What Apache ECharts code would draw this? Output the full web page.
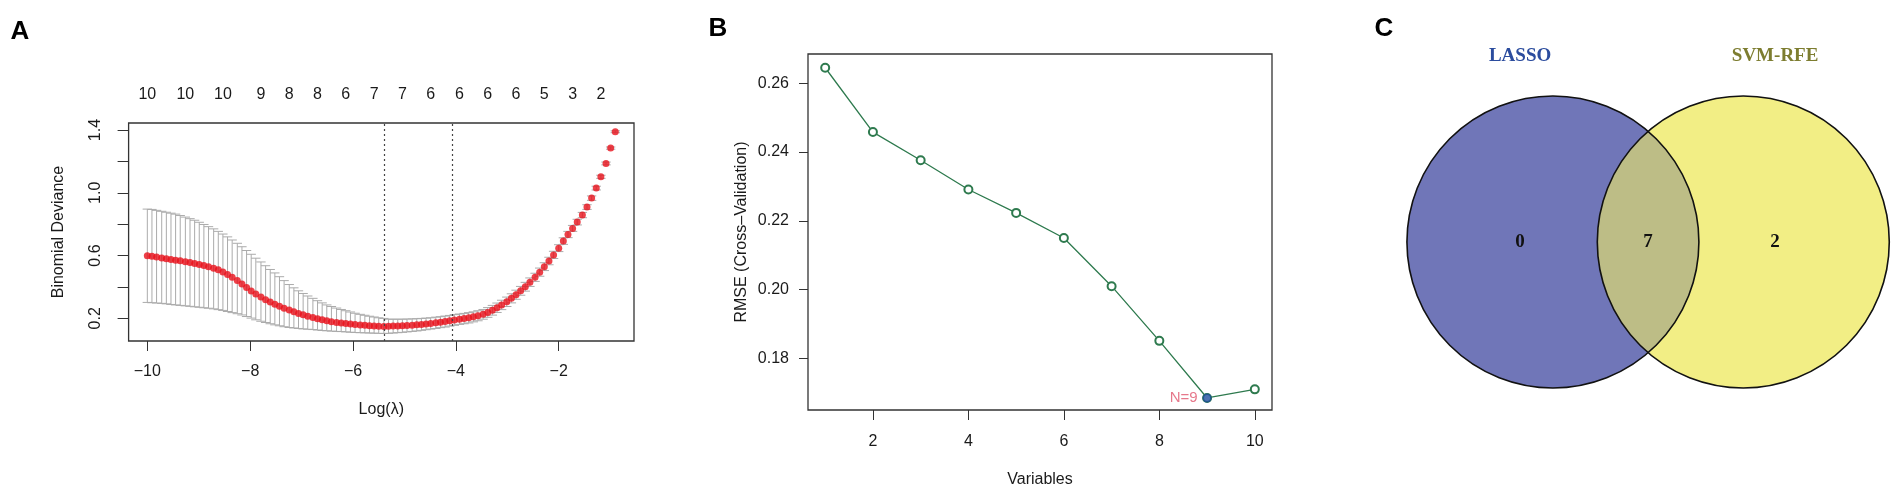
<!DOCTYPE html>
<html>
<head>
<meta charset="utf-8">
<script src="https://cdn.jsdelivr.net/npm/echarts@6/dist/echarts.min.js"></script>
<style>
  html, body { margin: 0; padding: 0; background: #fff; }
  #chart { width: 1902px; height: 498px; }
</style>
</head>
<body>
<div id="chart"></div>
<script>
// ---- A: LASSO cross-validation curve ----
const logLambda = [
  -10.00, -9.91, -9.82, -9.72, -9.63, -9.54, -9.45, -9.36, -9.26, -9.17,
  -9.08, -8.99, -8.90, -8.81, -8.71, -8.62, -8.53, -8.44, -8.35, -8.25,
  -8.16, -8.07, -7.98, -7.89, -7.79, -7.70, -7.61, -7.52, -7.43, -7.34,
  -7.24, -7.15, -7.06, -6.97, -6.88, -6.78, -6.69, -6.60, -6.51, -6.42,
  -6.32, -6.23, -6.14, -6.05, -5.96, -5.86, -5.77, -5.68, -5.59, -5.50,
  -5.40, -5.31, -5.22, -5.13, -5.04, -4.95, -4.85, -4.76, -4.67, -4.58,
  -4.49, -4.39, -4.30, -4.21, -4.12, -4.03, -3.93, -3.84, -3.75, -3.66,
  -3.57, -3.47, -3.38, -3.29, -3.20, -3.11, -3.01, -2.92, -2.83, -2.74,
  -2.65, -2.56, -2.46, -2.37, -2.28, -2.19, -2.10, -2.00, -1.91, -1.82,
  -1.73, -1.64, -1.54, -1.45, -1.36, -1.27, -1.18, -1.08, -0.99, -0.90
];
const cvMean = [
  0.599, 0.595, 0.590, 0.585, 0.580, 0.575, 0.570, 0.566, 0.561, 0.555,
  0.549, 0.543, 0.536, 0.528, 0.519, 0.509, 0.495, 0.479, 0.461, 0.440,
  0.418, 0.396, 0.374, 0.354, 0.335, 0.318, 0.303, 0.289, 0.276, 0.264,
  0.252, 0.241, 0.231, 0.222, 0.213, 0.205, 0.197, 0.190, 0.184, 0.178,
  0.173, 0.169, 0.166, 0.163, 0.160, 0.157, 0.155, 0.153, 0.151, 0.149,
  0.148, 0.149, 0.150, 0.151, 0.152, 0.154, 0.156, 0.158, 0.161, 0.164,
  0.167, 0.171, 0.175, 0.179, 0.184, 0.189, 0.194, 0.198, 0.203, 0.209,
  0.216, 0.225, 0.237, 0.251, 0.267, 0.285, 0.305, 0.327, 0.350, 0.375,
  0.401, 0.430, 0.461, 0.494, 0.529, 0.565, 0.604, 0.647, 0.692, 0.734,
  0.773, 0.813, 0.858, 0.909, 0.966, 1.030, 1.102, 1.187, 1.285, 1.389
];
const cvUpper = [
  0.896, 0.894, 0.888, 0.882, 0.876, 0.870, 0.864, 0.855, 0.845, 0.835,
  0.825, 0.812, 0.798, 0.784, 0.770, 0.754, 0.737, 0.719, 0.699, 0.678,
  0.656, 0.632, 0.608, 0.583, 0.559, 0.535, 0.511, 0.489, 0.465, 0.440,
  0.415, 0.394, 0.375, 0.358, 0.342, 0.327, 0.312, 0.298, 0.285, 0.275,
  0.265, 0.256, 0.248, 0.240, 0.232, 0.225, 0.219, 0.213, 0.208, 0.203,
  0.199, 0.194, 0.194, 0.194, 0.194, 0.195, 0.196, 0.197, 0.199, 0.201,
  0.203, 0.207, 0.210, 0.214, 0.218, 0.223, 0.227, 0.231, 0.236, 0.241,
  0.248, 0.256, 0.268, 0.282, 0.297, 0.315, 0.335, 0.356, 0.379, 0.403,
  0.429, 0.457, 0.487, 0.520, 0.554, 0.589, 0.627, 0.669, 0.713, 0.754,
  0.792, 0.831, 0.875, 0.924, 0.980, 1.042, 1.112, 1.196, 1.292, 1.395
];
const cvLower = [
  0.301, 0.299, 0.297, 0.295, 0.292, 0.288, 0.285, 0.282, 0.279, 0.276,
  0.273, 0.270, 0.267, 0.264, 0.260, 0.255, 0.250, 0.243, 0.236, 0.229,
  0.221, 0.211, 0.201, 0.190, 0.181, 0.173, 0.165, 0.158, 0.152, 0.146,
  0.141, 0.138, 0.135, 0.132, 0.130, 0.128, 0.125, 0.122, 0.120, 0.118,
  0.116, 0.115, 0.113, 0.111, 0.109, 0.108, 0.107, 0.106, 0.105, 0.104,
  0.103, 0.104, 0.106, 0.108, 0.110, 0.113, 0.116, 0.119, 0.123, 0.127,
  0.131, 0.135, 0.140, 0.144, 0.150, 0.155, 0.161, 0.165, 0.170, 0.177,
  0.184, 0.194, 0.206, 0.220, 0.237, 0.255, 0.275, 0.298, 0.321, 0.347,
  0.373, 0.403, 0.435, 0.468, 0.504, 0.541, 0.581, 0.625, 0.671, 0.714,
  0.754, 0.795, 0.841, 0.894, 0.952, 1.018, 1.092, 1.178, 1.278, 1.383
];
const lambdaMin = -5.39;
const lambda1se = -4.08;
// number of non-zero coefficients shown along the top
const topPos = [-10.00, -9.26, -8.53, -7.79, -7.24, -6.69, -6.14, -5.59,
                -5.04, -4.49, -3.93, -3.38, -2.83, -2.28, -1.73, -1.18];
const topNz = [10, 10, 10, 9, 8, 8, 6, 7, 7, 6, 6, 6, 6, 5, 3, 2];
const aTicksX = [-10, -8, -6, -4, -2];
const aTicksY = [0.2, 0.4, 0.6, 0.8, 1.0, 1.2, 1.4];
const aLabelsY = [0.2, 0.6, 1.0, 1.4];

// ---- B: SVM-RFE ----
const nVars = [1, 2, 3, 4, 5, 6, 7, 8, 9, 10];
const rmse = [0.2645, 0.2458, 0.2376, 0.2291, 0.2223, 0.2150, 0.2010, 0.1851, 0.1685, 0.1710];
const bTicksX = [2, 4, 6, 8, 10];
const bTicksY = [0.18, 0.20, 0.22, 0.24, 0.26];

// ---- C: Venn ----
const vennSets = ['LASSO', 'SVM-RFE'];
const vennCounts = [0, 7, 2]; // LASSO only, both, SVM-RFE only

const FONT = '"Liberation Sans", Arial, Helvetica, sans-serif';
const SERIF = '"Liberation Serif", "Times New Roman", serif';
const INK = '#1a1a1a';
const GREEN = '#2E7A4E';

const chart = echarts.init(document.getElementById('chart'));

const tick = (vals, len) => ({ show: true, inside: false, length: len, customValues: vals,
  lineStyle: { color: '#333', width: 1 } });
const txt = { color: INK, fontSize: 16, fontFamily: FONT };
const minus = (s) => String(s).replace('-', '\u2212');

const best = rmse.indexOf(Math.min(...rmse));

// venn layout, in units of circle radius
const vennCx = [-0.652, 0.652];
const vennLabelX = [-0.877, 0, 0.87];
const vennNameY = 1.274;
const vennFill = ['#7076B8', '#F2EE85'];
const vennNameColor = ['#2B4C9E', '#7D7D30'];

const option = {
  animation: false,
  graphic: [
    { type: 'text', x: 20, y: 32, style: { text: 'A', align: 'center', verticalAlign: 'middle', font: 'bold 26px ' + FONT, fill: '#000' } },
    { type: 'text', x: 718, y: 29, style: { text: 'B', align: 'center', verticalAlign: 'middle', font: 'bold 26px ' + FONT, fill: '#000' } },
    { type: 'text', x: 1384, y: 29, style: { text: 'C', align: 'center', verticalAlign: 'middle', font: 'bold 26px ' + FONT, fill: '#000' } }
  ],
  grid: [
    { left: 128.6, top: 123, width: 505.4, height: 218, show: true, borderColor: '#333', borderWidth: 1.3, outerBoundsMode: 'none' },
    { left: 808, top: 54, width: 464, height: 356, show: true, borderColor: '#333', borderWidth: 1.3, outerBoundsMode: 'none' },
    { left: 1397, top: 81.4, width: 502.2, height: 321.2, show: false, outerBoundsMode: 'none' }
  ],
  xAxis: [
    { gridIndex: 0, type: 'value', min: -10.364, max: -0.536,
      splitLine: { show: false }, axisLine: { show: false, onZero: false },
      axisTick: tick(aTicksX, 10),
      axisLabel: Object.assign({}, txt, { margin: 23, customValues: aTicksX, formatter: v => minus(v) }),
      name: 'Log(\u03bb)', nameLocation: 'middle', nameGap: 61, nameTextStyle: txt },
    { gridIndex: 0, type: 'value', position: 'top', min: -10.364, max: -0.536,
      splitLine: { show: false }, axisLine: { show: false, onZero: false }, axisTick: { show: false },
      axisLabel: Object.assign({}, txt, { margin: 20, customValues: topPos,
        formatter: v => { const k = topPos.findIndex(p => Math.abs(p - v) < 1e-6); return k >= 0 ? String(topNz[k]) : ''; } }) },
    { gridIndex: 1, type: 'value', min: 0.64, max: 10.36,
      splitLine: { show: false }, axisLine: { show: false, onZero: false },
      axisTick: tick(bTicksX, 10),
      axisLabel: Object.assign({}, txt, { margin: 24, customValues: bTicksX }),
      name: 'Variables', nameLocation: 'middle', nameGap: 62, nameTextStyle: txt },
    { gridIndex: 2, type: 'value', min: -1.72, max: 1.72, show: false }
  ],
  yAxis: [
    { gridIndex: 0, type: 'value', min: 0.055, max: 1.445,
      splitLine: { show: false }, axisLine: { show: false, onZero: false },
      axisTick: tick(aTicksY, 11),
      axisLabel: Object.assign({}, txt, { rotate: 90, margin: 25, customValues: aLabelsY, formatter: v => v.toFixed(1) }),
      name: 'Binomial Deviance', nameLocation: 'middle', nameGap: 62, nameTextStyle: txt },
    { gridIndex: 1, type: 'value', min: 0.165, max: 0.2685,
      splitLine: { show: false }, axisLine: { show: false, onZero: false },
      axisTick: tick(bTicksY, 9),
      axisLabel: Object.assign({}, txt, { margin: 19, customValues: bTicksY, formatter: v => v.toFixed(2) }),
      name: 'RMSE (Cross\u2013Validation)', nameLocation: 'middle', nameGap: 58, nameTextStyle: txt },
    { gridIndex: 2, type: 'value', min: -1.1, max: 1.1, show: false }
  ],
  series: [
    // A: grey error bars
    { type: 'custom', xAxisIndex: 0, yAxisIndex: 0, silent: true, z: 2,
      data: logLambda.map((x, i) => [x, cvLower[i], cvUpper[i]]),
      encode: { x: 0, y: [1, 2] },
      renderItem(params, api) {
        const x = api.value(0);
        const lo = api.coord([x, api.value(1)]);
        const hi = api.coord([x, api.value(2)]);
        const w = api.size([0.091, 0])[0];
        const st = { stroke: '#ABABAB', lineWidth: 1 };
        return { type: 'group', children: [
          { type: 'line', shape: { x1: lo[0], y1: lo[1], x2: hi[0], y2: hi[1] }, style: st },
          { type: 'line', shape: { x1: lo[0] - w, y1: lo[1], x2: lo[0] + w, y2: lo[1] }, style: st },
          { type: 'line', shape: { x1: hi[0] - w, y1: hi[1], x2: hi[0] + w, y2: hi[1] }, style: st }
        ] };
      } },
    // A: red mean points + lambda lines
    { type: 'scatter', xAxisIndex: 0, yAxisIndex: 0, silent: true, z: 3,
      symbolSize: 7, itemStyle: { color: '#E8121C' },
      data: logLambda.map((x, i) => [x, cvMean[i]]),
      markLine: { silent: true, symbol: 'none', label: { show: false },
        lineStyle: { color: '#444', type: [2, 3], width: 1.2 },
        data: [{ xAxis: lambdaMin }, { xAxis: lambda1se }] } },
    // B: RMSE line
    { type: 'line', xAxisIndex: 2, yAxisIndex: 1, silent: true,
      data: nVars.map((n, i) => [n, rmse[i]]),
      symbol: 'emptyCircle', symbolSize: 8,
      lineStyle: { color: GREEN, width: 1.3 },
      itemStyle: { color: GREEN, borderWidth: 1.2 } },
    // B: best point
    { type: 'scatter', xAxisIndex: 2, yAxisIndex: 1, silent: true, z: 4,
      data: [[nVars[best], rmse[best]]], symbolSize: 9,
      itemStyle: { color: '#1F4E9E' },
      label: { show: true, position: 'left', distance: 5, formatter: 'N=' + nVars[best],
        color: '#E0566E', fontSize: 15, fontFamily: FONT } },
    // C: Venn diagram
    { type: 'custom', xAxisIndex: 3, yAxisIndex: 2, silent: true,
      data: vennCounts.map((c, i) => [i, c]),
      renderItem(params, api) {
        const i = params.dataIndex;
        const r = api.size([1, 0])[0];
        const children = [];
        const p = api.coord([vennLabelX[i], 0]);
        children.push({ type: 'text', z2: 6, style: { text: String(api.value(1)), x: p[0], y: p[1],
          align: 'center', verticalAlign: 'middle', font: 'bold 19px ' + SERIF, fill: '#111' } });
        if (i !== 1) {
          const k = i === 0 ? 0 : 1;
          const c = api.coord([vennCx[k], 0]);
          children.push({ type: 'circle', z2: 1, shape: { cx: c[0], cy: c[1], r: r }, style: { fill: vennFill[k] } });
          children.push({ type: 'circle', z2: 4, shape: { cx: c[0], cy: c[1], r: r }, style: { fill: 'none', stroke: '#111', lineWidth: 1.6 } });
          const n = api.coord([vennLabelX[i], vennNameY]);
          children.push({ type: 'text', z2: 6, style: { text: vennSets[k], x: n[0], y: n[1],
            align: 'center', verticalAlign: 'middle', font: 'bold 19px ' + SERIF, fill: vennNameColor[k] } });
        } else {
          const c0 = api.coord([vennCx[0], 0]);
          const c1 = api.coord([vennCx[1], 0]);
          const mx = (c0[0] + c1[0]) / 2;
          const hd = (c1[0] - c0[0]) / 2;
          const h = Math.sqrt(r * r - hd * hd);
          const y0 = c0[1] - h, y1 = c0[1] + h;
          const d = 'M' + mx + ',' + y0 + ' A' + r + ',' + r + ' 0 0,0 ' + mx + ',' + y1 +
                    ' A' + r + ',' + r + ' 0 0,0 ' + mx + ',' + y0 + ' Z';
          children.push({ type: 'path', z2: 2, shape: { pathData: d }, style: { fill: '#BDBD86' } });
        }
        return { type: 'group', children: children };
      } }
  ]
};

chart.setOption(option);
</script>
</body>
</html>
